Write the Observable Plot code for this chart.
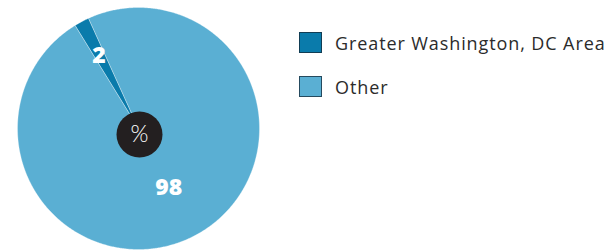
<!DOCTYPE html>
<html>
<head>
<meta charset="utf-8">
<script src="https://cdn.jsdelivr.net/npm/d3@7"></script>
<script src="https://cdn.jsdelivr.net/npm/@observablehq/plot@0.6"></script>
<style>
  html, body { margin: 0; padding: 0; background: #fff; }
  #wrap { position: relative; width: 611px; height: 250px; font-family: "Open Sans", sans-serif; }
  #legend { position: absolute; left: 299px; top: 0; }
  .item { position: absolute; left: 0; white-space: nowrap; display: flex; align-items: center; }
  .sw { width: 23px; height: 21px; box-sizing: border-box; border: 1px solid rgba(20,40,55,0.75); }
  .lab { margin-left: 13px; font-size: 18px; letter-spacing: 0.9px; color: #2b2b2b; line-height: 22px; position: relative; top: 1px; }
</style>
</head>
<body>
<div id="wrap"></div>
<script>
const categories = ["Greater Washington, DC Area", "Other"];
const values = [2, 98];
const colors = ["#0a7bab", "#5aafd3"];
const centerLabel = "%";

const start = -31.6 * Math.PI / 180;
const arcs = d3.pie().sort(null).startAngle(start).endAngle(start + 2 * Math.PI).value(d => d)(values);

const pts = [];
arcs.forEach((a, i) => {
  const cat = categories[i];
  pts.push({x: 0, y: 0, cat});
  const n = Math.max(4, Math.ceil((a.endAngle - a.startAngle) / (Math.PI / 360)));
  for (let k = 0; k <= n; k++) {
    const t = a.startAngle + (a.endAngle - a.startAngle) * k / n;
    pts.push({x: Math.sin(t), y: Math.cos(t), cat});
  }
  pts.push({x: 0, y: 0, cat});
});

const labelRadius = [0.68, 0.55];
const labels = arcs.map((a, i) => {
  const m = (a.startAngle + a.endAngle) / 2;
  return {x: labelRadius[i] * Math.sin(m), y: labelRadius[i] * Math.cos(m), text: String(values[i])};
});

const chart = Plot.plot({
  width: 611,
  height: 250,
  marginLeft: 17,
  marginRight: 352,
  marginTop: 7,
  marginBottom: 1,
  x: {domain: [-1, 1], axis: null},
  y: {domain: [-1, 1], axis: null},
  color: {domain: categories, range: colors},
  style: {background: "#fff"},
  marks: [
    Plot.line(pts, {x: "x", y: "y", z: "cat", fill: "cat", stroke: "#ffffff", strokeWidth: 0.6, strokeOpacity: 0.5}),
    Plot.dot([{x: 0, y: 0}], {x: "x", y: "y", r: 23, fill: "#231f20", stroke: "none", dx: 1, dy: 6}),
    Plot.text([{x: 0, y: 0, t: centerLabel}], {x: "x", y: "y", text: "t", fill: "#fff", fontSize: 23, fontWeight: 300, fontFamily: "Lato, sans-serif", dx: 1, dy: 6}),
    Plot.text(labels, {x: "x", y: "y", text: "text", fill: "#fff", fontSize: 23, fontWeight: 800, fontFamily: "'Open Sans', sans-serif", dx: -1})
  ]
});

const wrap = document.getElementById("wrap");
wrap.appendChild(chart);
const legend = document.createElement("div");
legend.id = "legend";
const tops = [31, 75];
categories.forEach((c, i) => {
  const item = document.createElement("div");
  item.className = "item";
  item.style.top = tops[i] + "px";
  const sw = document.createElement("div");
  sw.className = "sw";
  sw.style.background = colors[i];
  const lab = document.createElement("span");
  lab.className = "lab";
  lab.textContent = c;
  item.appendChild(sw);
  item.appendChild(lab);
  legend.appendChild(item);
});
wrap.appendChild(legend);
</script>
</body>
</html>
